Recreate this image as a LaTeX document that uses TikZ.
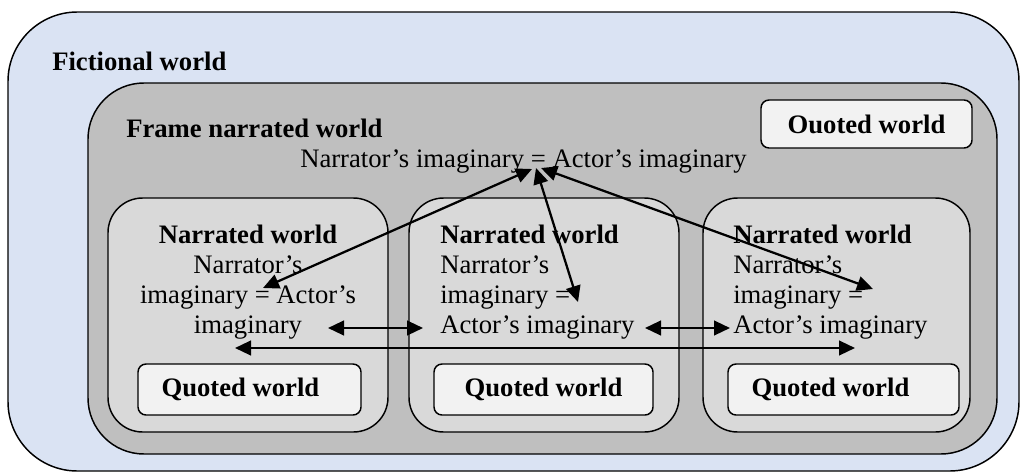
\documentclass[tikz,border=0pt]{standalone}
\usepackage{fontspec}
\setmainfont{Liberation Serif}
\usepackage{xcolor}
\usetikzlibrary{arrows.meta,fit,positioning}
\definecolor{fictblue}{HTML}{DAE3F3}
\definecolor{framegray}{HTML}{BFBFBF}
\definecolor{narrgray}{HTML}{D9D9D9}
\definecolor{quotegray}{HTML}{F2F2F2}
\tikzset{
  worldbox/.style={draw, line width=1.1pt, inner sep=0pt},
  quotebox/.style={worldbox, fill=quotegray, rounded corners=6pt},
  title/.style={inner sep=0pt, font=\fontsize{20}{22.5}\selectfont\bfseries},
  plain/.style={inner sep=0pt},
  link/.style={line width=1.7pt, {Triangle[length=12pt,width=11pt]}-{Triangle[length=12pt,width=11pt]}}
}

\begin{document}
\begin{tikzpicture}[x=0.75pt, y=-0.75pt, font=\fontsize{20}{22.5}\selectfont]
			\useasboundingbox (0,0) rectangle (1021,475);
			%   %   %   %   %   %   %   %   %   %   %
			%   Fictional world
				\node[worldbox, fill=fictblue, rounded corners=52pt, fit={(8,12) (1019,471)}] (fiction) {};
				\node[title, anchor=base west] (fictiontitle) at (52,70) {Fictional world};
			%   %   %   %   %   %   %   %   %   %   %
			%   Frame narrated world
				\node[worldbox, fill=framegray, rounded corners=42pt, fit={(88,83) (997,454)}] (frame) {};
				\node[title, anchor=base west] (frametitle) at (126,137) {Frame narrated world};
				\node[plain, anchor=base west] (frametext) at (300,167) {Narrator’s imaginary = Actor’s imaginary};
				\node[quotebox, fit={(761,100) (972,148)}] (quotetop) {};
				\node[title] (quotetoptext) at (quotetop.center) {Ouoted world};
			%   %   %   %   %   %   %   %   %   %   %
			%   Narrated worlds (base = last line)
				\node[worldbox, fill=narrgray, rounded corners=26pt, fit={(108,198) (388,432)}] (narrleft) {};
				\node[worldbox, fill=narrgray, rounded corners=26pt, fit={(409,198) (679,432)}] (narrmid) {};
				\node[worldbox, fill=narrgray, rounded corners=26pt, fit={(703,198) (970,432)}] (narrright) {};
				\node[plain, anchor=base, align=center] (narrlefttext) at (248,333)
				{\textbf{Narrated world}\\Narrator’s\\imaginary = Actor’s\\imaginary};
				\node[plain, anchor=base west, align=left] (narrmidtext) at (440,333)
				{\textbf{Narrated world}\\Narrator’s\\imaginary =\\Actor’s imaginary};
				\node[plain, anchor=base west, align=left] (narrrighttext) at (733,333)
				{\textbf{Narrated world}\\Narrator’s\\imaginary =\\Actor’s imaginary};
			%   %   %   %   %   %   %   %   %   %   %
			%   Quoted worlds
				\node[quotebox, fit={(138,364) (361,415)}] (quoteleft) {};
				\node[quotebox, fit={(434,364) (653,415)}] (quotemid) {};
				\node[quotebox, fit={(728,364) (959,415)}] (quoteright) {};
				\node[title, anchor=west] (quotelefttext) at ([xshift=18pt]quoteleft.west) {Quoted world};
				\node[title] (quotemidtext) at (quotemid.center) {Quoted world};
				\node[title, anchor=west] (quoterighttext) at ([xshift=18pt]quoteright.west) {Quoted world};
			%   %   %   %   %   %   %   %   %   %   %
			%   Arrow ends
				\coordinate (topa) at (532,169);
				\coordinate (topb) at (536,168);
				\coordinate (topc) at (541,168);
				\coordinate (lefta) at (263,288);
				\coordinate (midb) at (578,302);
				\coordinate (rightc) at (873,289);
				\coordinate (pairal) at (328,328);
				\coordinate (pairar) at (423,328);
				\coordinate (pairbl) at (645,328);
				\coordinate (pairbr) at (730,328);
				\coordinate (longl) at (235,348);
				\coordinate (longr) at (855,348);
			%   %   %   %   %   %   %   %   %   %   %
			%   Arrows
				\draw[link] (topa) -- (lefta);
				\draw[link] (topb) -- (midb);
				\draw[link] (topc) -- (rightc);
				\draw[link] (pairal) -- (pairar);
				\draw[link] (pairbl) -- (pairbr);
				\draw[link] (longl) -- (longr);
		\end{tikzpicture}
\end{document}
